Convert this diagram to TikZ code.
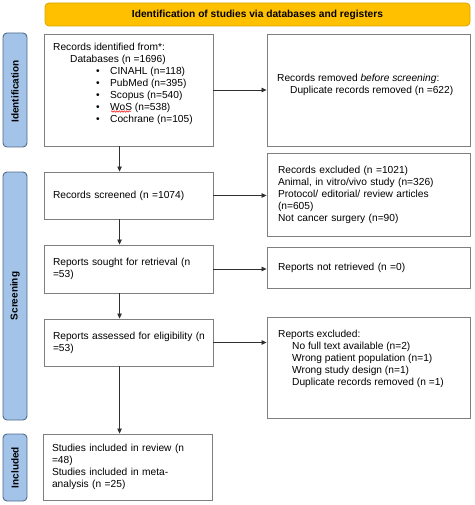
\documentclass[tikz,border=0pt]{standalone}
\usepackage{fontspec}
\setmainfont{Liberation Sans}
\usetikzlibrary{arrows.meta,calc,decorations.pathmorphing}
\definecolor{titlefill}{HTML}{FFC000}
\definecolor{titledraw}{HTML}{D9A400}
\definecolor{sidefill}{HTML}{A3C3E8}
\definecolor{sidedraw}{HTML}{4F6B8C}
\definecolor{boxdraw}{HTML}{7F7F7F}
\definecolor{arrowcol}{HTML}{303030}
\begin{document}
\begin{tikzpicture}[x=1pt,y=-1pt,
  font=\fontsize{10.2}{12}\selectfont,
  box/.style={draw=boxdraw,line width=0.9pt,inner sep=0pt},
  lbox/.style={box,minimum width=169pt,text width=151pt,align=left},
  rbox/.style={box,minimum width=203pt,text width=181pt,align=left},
  txt/.style={inner sep=0pt,align=left,anchor=north west},
  side/.style={draw=sidedraw,fill=sidefill,line width=0.9pt,rounded corners=4pt,inner sep=0pt,minimum width=24pt},
  sidetxt/.style={rotate=90,font=\fontsize{10}{12}\selectfont\bfseries},
  flow/.style={draw=arrowcol,line width=0.8pt,-{Triangle[length=5pt,width=4.5pt]}}]
\useasboundingbox (0,0) rectangle (474,505);
% title
\node[draw=titledraw,fill=titlefill,line width=0.8pt,rounded corners=4pt,minimum width=425pt,minimum height=23pt,inner sep=0pt,font=\fontsize{10.2}{12}\selectfont\bfseries] (title) at (257.5,14.5) {Identification of studies via databases and registers};
% side bars
\node[side,minimum height=114pt] (sid) at (15,90) {};
\node[sidetxt] (sidt) at (15,91.5) {Identification};
\node[side,minimum height=248pt] (sscr) at (15,296) {};
\node[sidetxt] (sscrt) at (sscr.center) {Screening};
\node[side,minimum height=67pt] (sinc) at (15,467.5) {};
\node[sidetxt] (sinct) at (sinc.center) {Included};
% left boxes
\node[box,minimum width=169pt,minimum height=112pt] (b1) at (128.5,90) {};
\node[txt] (b1t) at (53,42.5) {Records identified from*:\\
\hspace*{17pt}Databases (n =1696)\\
\hspace*{43pt}\makebox[14pt][l]{\textbullet}CINAHL (n=118)\\
\hspace*{43pt}\makebox[14pt][l]{\textbullet}PubMed (n=395)\\
\hspace*{43pt}\makebox[14pt][l]{\textbullet}Scopus (n=540)\\
\hspace*{43pt}\makebox[14pt][l]{\textbullet}WoS (n=538)\\
\hspace*{43pt}\makebox[14pt][l]{\textbullet}Cochrane (n=105)};
\draw[red,line width=0.5pt,decorate,decoration={snake,amplitude=0.7pt,segment length=2.5pt}] ($(b1t.north west)+(58,69)$) -- ++(20,0);
\node[lbox,minimum height=47pt] (b2) at (128.5,195.5) {Records screened (n =1074)};
\node[lbox,minimum height=48pt] (b3) at (128.5,269) {\mbox{Reports sought for retrieval (n}\\=53)};
\node[lbox,minimum height=47pt] (b4) at (128.5,342.5) {\mbox{Reports assessed for eligibility (n}\\=53)};
\node[lbox,minimum height=66pt] (b5) at (127.5,467) {\mbox{Studies included in review (n}\\=48)\\Studies included in meta-\\analysis (n =25)};
% right boxes
\node[box,minimum width=203pt,minimum height=112pt] (r1) at (368.5,90) {};
\node[txt,anchor=west] (r1t) at (277,84.5) {Records removed \textit{before screening}:\\
\hspace*{13pt}Duplicate records removed (n =622)};
\node[rbox,minimum height=83pt] (r2) at (368.5,194.5) {Records excluded (n =1021)\\Animal, in vitro/vivo study (n=326)\\Protocol/ editorial/ review articles\\(n=605)\\Not cancer surgery (n=90)};
\node[rbox,minimum height=41pt] (r3) at (368.5,267.5) {Reports not retrieved (n =0)};
\node[box,minimum width=203pt,minimum height=101pt] (r4) at (368.5,367.5) {};
\node[txt] (r4t) at (278,329.5) {Reports excluded:\\
\hspace*{14pt}No full text available (n=2)\\
\hspace*{14pt}Wrong patient population (n=1)\\
\hspace*{14pt}Wrong study design (n=1)\\
\hspace*{14pt}Duplicate records removed (n =1)};
% vertical arrows
\draw[flow] ($(b1.south west)+(76,0)$) -- ($(b2.north west)+(76,0)$);
\draw[flow] ($(b2.south west)+(76,0)$) -- ($(b3.north west)+(76,0)$);
\draw[flow] ($(b3.south west)+(76,0)$) -- ($(b4.north west)+(76,0)$);
\draw[flow] ($(b4.south west)+(76,0)$) -- ($(b5.north west)+(77,0)$);
% horizontal arrows
\draw[flow] (b1.east) -- (b1.east -| r1.west);
\draw[flow] (b2.east) -- (b2.east -| r2.west);
\draw[flow] (b3.east) -- (b3.east -| r3.west);
\draw[flow] (b4.east) -- (b4.east -| r4.west);
\end{tikzpicture}
\end{document}
